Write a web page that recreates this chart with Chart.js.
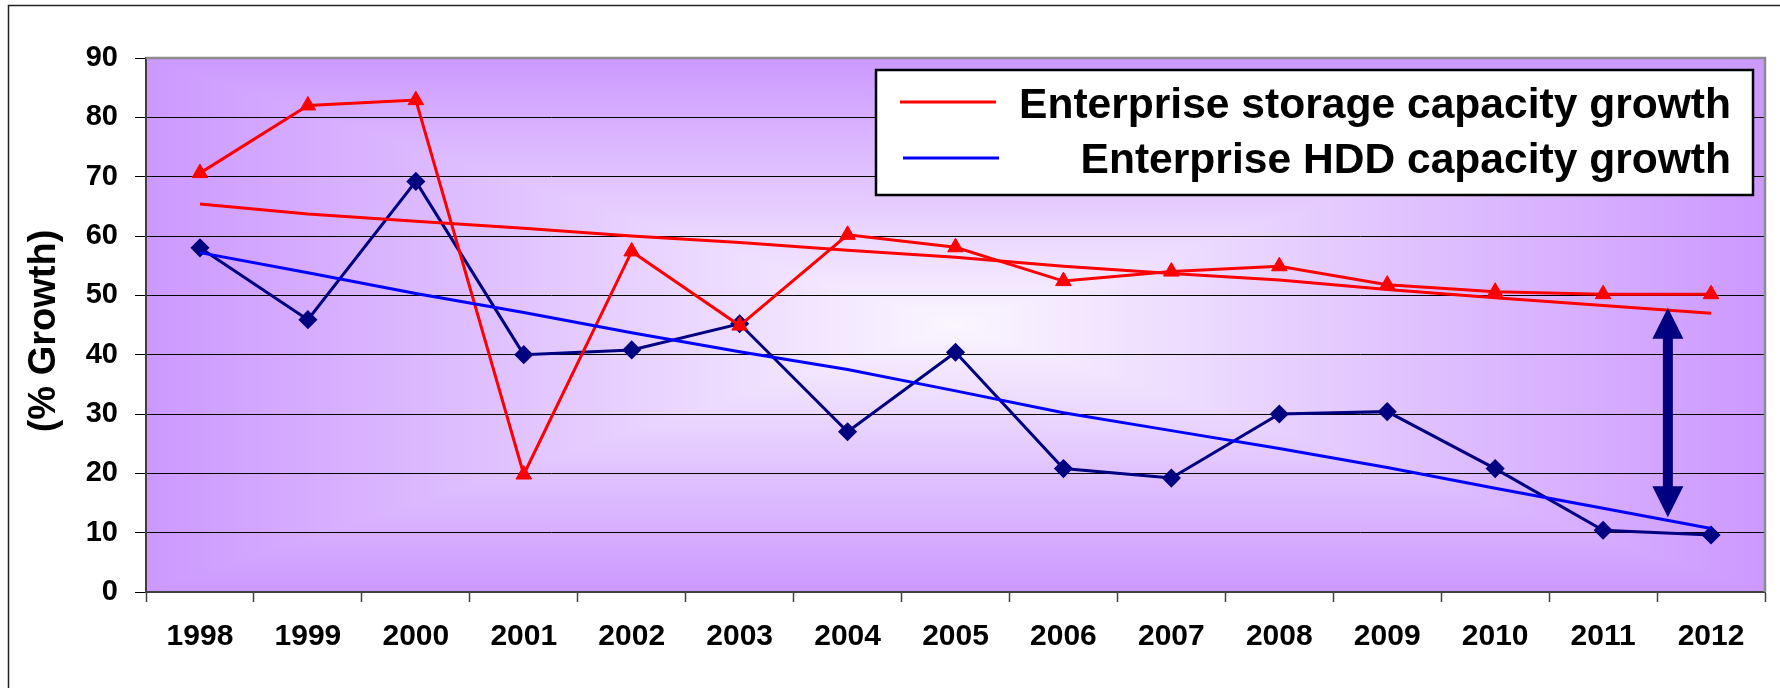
<!DOCTYPE html>
<html>
<head>
<meta charset="utf-8">
<script src="https://cdn.jsdelivr.net/npm/chart.js@4.4.1/dist/chart.umd.min.js"></script>
<style>
  html, body { margin: 0; padding: 0; background: #ffffff; }
  canvas { display: block; }
</style>
</head>
<body>
<canvas id="growthChart" width="1780" height="688"></canvas>
<script>
// ---- data -------------------------------------------------------------
const years = ['1998', '1999', '2000', '2001', '2002', '2003', '2004', '2005',
               '2006', '2007', '2008', '2009', '2010', '2011', '2012'];

// yearly growth, in percent
const storageGrowth = [70.6, 82.0, 82.9, 19.8, 57.4, 44.9, 60.2, 58.1,
                       52.4, 54.0, 54.9, 51.8, 50.6, 50.2, 50.2];
const hddGrowth     = [58.0, 45.9, 69.2, 40.0, 40.8, 45.2, 27.0, 40.4,
                       20.8, 19.2, 30.0, 30.4, 20.8, 10.4, 9.6];

// trend lines
const storageTrend  = [65.4, 63.7, 62.5, 61.3, 60.0, 58.9, 57.6, 56.4,
                       54.9, 53.7, 52.6, 51.0, 49.6, 48.3, 47.0];
const hddTrend      = [57.2, 53.8, 50.3, 47.1, 43.7, 40.5, 37.5, 33.9,
                       30.2, 27.2, 24.2, 21.0, 17.5, 14.1, 10.7];

const yTickMin = 0;
const yTickMax = 90;
const yTickStep = 10;

const legendLabels = ['Enterprise storage capacity growth', 'Enterprise HDD capacity growth'];
const axisTitle = '(% Growth)';

// double arrow marking the gap between the two trends:
// position on the category axis (fractional index) and the values it spans
const gapArrowAt = 13.6;
const gapArrowSpan = [47.9, 12.6];

// ---- styling ------------------------------------------------------------
const FONT = '"Liberation Sans", Arial, Helvetica, sans-serif';
const RED = '#ff0000';
const NAVY = '#000080';
const BLUE = '#0000ff';
const LAVENDER = [204, 153, 255];
const CENTER = [250, 246, 255];

Chart.defaults.font.family = FONT;
Chart.defaults.color = '#000000';

// rectangular "from centre" gradient behind the plot, plus the outer frame
let bgCache = null;
const plotBackground = {
  id: 'plotBackground',
  beforeDraw(chart) {
    const { ctx, chartArea: a } = chart;
    const w = Math.round(a.right - a.left), h = Math.round(a.bottom - a.top);
    if (!bgCache || bgCache.width !== w || bgCache.height !== h) {
      bgCache = document.createElement('canvas');
      bgCache.width = w; bgCache.height = h;
      const octx = bgCache.getContext('2d');
      const img = octx.createImageData(w, h);
      const cx = w / 2, cy = h / 2;
      for (let y = 0; y < h; y++) {
        const ty = Math.abs(y + 0.5 - cy) / cy;
        for (let x = 0; x < w; x++) {
          const t = Math.max(ty, Math.abs(x + 0.5 - cx) / cx);
          const i = (y * w + x) * 4;
          img.data[i]     = CENTER[0] + (LAVENDER[0] - CENTER[0]) * t;
          img.data[i + 1] = CENTER[1] + (LAVENDER[1] - CENTER[1]) * t;
          img.data[i + 2] = CENTER[2] + (LAVENDER[2] - CENTER[2]) * t;
          img.data[i + 3] = 255;
        }
      }
      octx.putImageData(img, 0, 0);
    }
    ctx.save();
    ctx.fillStyle = '#ffffff';
    ctx.fillRect(0, 0, chart.width, chart.height);
    ctx.drawImage(bgCache, Math.round(a.left), Math.round(a.top));
    // outer frame (left and top edges)
    ctx.strokeStyle = '#222222';
    ctx.lineWidth = 1.5;
    ctx.beginPath();
    ctx.moveTo(8.5, chart.height);
    ctx.lineTo(8.5, 5.5);
    ctx.lineTo(chart.width, 5.5);
    ctx.stroke();
    ctx.restore();
  }
};

// grey edge along the top and right of the plot
const plotFrame = {
  id: 'plotFrame',
  beforeDatasetsDraw(chart) {
    const { ctx, chartArea: a } = chart;
    ctx.save();
    ctx.strokeStyle = '#8c8c8c';
    ctx.lineWidth = 2.5;
    ctx.beginPath();
    ctx.moveTo(a.left, a.top);
    ctx.lineTo(a.right, a.top);
    ctx.lineTo(a.right, a.bottom);
    ctx.stroke();
    ctx.restore();
  }
};

// double-headed arrow between the trend lines
const gapArrow = {
  id: 'gapArrow',
  afterDatasetsDraw(chart) {
    const { ctx, scales: { x: xs, y: ys } } = chart;
    const x = xs.getPixelForValue(gapArrowAt);
    const y1 = ys.getPixelForValue(gapArrowSpan[0]);
    const y2 = ys.getPixelForValue(gapArrowSpan[1]);
    const head = 31, hw = 15.5, sw = 5;
    ctx.save();
    ctx.fillStyle = NAVY;
    ctx.beginPath();
    ctx.moveTo(x, y1);
    ctx.lineTo(x + hw, y1 + head);
    ctx.lineTo(x + sw, y1 + head);
    ctx.lineTo(x + sw, y2 - head);
    ctx.lineTo(x + hw, y2 - head);
    ctx.lineTo(x, y2);
    ctx.lineTo(x - hw, y2 - head);
    ctx.lineTo(x - sw, y2 - head);
    ctx.lineTo(x - sw, y1 + head);
    ctx.lineTo(x - hw, y1 + head);
    ctx.closePath();
    ctx.fill();
    ctx.restore();
  }
};

// boxed legend in the upper right of the plot
const boxedLegend = {
  id: 'boxedLegend',
  afterDraw(chart) {
    const { ctx } = chart;
    const box = { l: 876, t: 70, r: 1753, b: 195 };
    const swatches = [
      { color: RED,  x1: 900, x2: 996, y: 102, base: 118 },
      { color: BLUE, x1: 903, x2: 999, y: 158, base: 173 }
    ];
    const textRight = 1731, firstWidth = 712;
    ctx.save();
    ctx.fillStyle = '#ffffff';
    ctx.fillRect(box.l, box.t, box.r - box.l, box.b - box.t);
    ctx.strokeStyle = '#000000';
    ctx.lineWidth = 2.5;
    ctx.strokeRect(box.l, box.t, box.r - box.l, box.b - box.t);
    ctx.font = 'bold 42px ' + FONT;
    const sx = firstWidth / ctx.measureText(legendLabels[0]).width;
    legendLabels.forEach((label, i) => {
      const s = swatches[i];
      ctx.strokeStyle = s.color;
      ctx.lineWidth = 3;
      ctx.beginPath();
      ctx.moveTo(s.x1, s.y);
      ctx.lineTo(s.x2, s.y);
      ctx.stroke();
      ctx.save();
      ctx.translate(textRight, s.base);
      ctx.scale(sx, 1);
      ctx.fillStyle = '#000000';
      ctx.textAlign = 'right';
      ctx.textBaseline = 'alphabetic';
      ctx.fillText(label, 0, 0);
      ctx.restore();
    });
    ctx.restore();
  }
};

// rotated value-axis title
const valueAxisTitle = {
  id: 'valueAxisTitle',
  afterDraw(chart) {
    const { ctx, chartArea: a } = chart;
    ctx.save();
    ctx.font = 'bold 38px ' + FONT;
    ctx.translate(55, (a.top + a.bottom) / 2 + 6);
    ctx.rotate(-Math.PI / 2);
    ctx.fillStyle = '#000000';
    ctx.textAlign = 'center';
    ctx.textBaseline = 'alphabetic';
    ctx.fillText(axisTitle, 0, 0);
    ctx.restore();
  }
};

new Chart(document.getElementById('growthChart'), {
  type: 'line',
  data: {
    labels: years,
    datasets: [
      { label: legendLabels[0] + ' trend', data: storageTrend, borderColor: RED,
        borderWidth: 3, pointRadius: 0, fill: false },
      { label: legendLabels[1] + ' trend', data: hddTrend, borderColor: BLUE,
        borderWidth: 3, pointRadius: 0, fill: false },
      { label: legendLabels[0], data: storageGrowth, borderColor: RED,
        borderWidth: 3, pointStyle: 'triangle', pointRadius: 9,
        pointBackgroundColor: RED, pointBorderColor: RED, pointBorderWidth: 1, fill: false },
      { label: legendLabels[1], data: hddGrowth, borderColor: NAVY,
        borderWidth: 3, pointStyle: 'rectRot', pointRadius: 8.5,
        pointBackgroundColor: NAVY, pointBorderColor: NAVY, pointBorderWidth: 1.5, fill: false }
    ]
  },
  options: {
    responsive: false,
    animation: false,
    devicePixelRatio: 1,
    layout: { padding: { left: 0, top: 58, right: 15, bottom: 0 } },
    elements: { line: { tension: 0 } },
    plugins: {
      legend: { display: false },
      tooltip: { enabled: false },
      title: { display: false }
    },
    scales: {
      x: {
        type: 'category',
        offset: true,
        grid: { offset: true, drawOnChartArea: false, drawTicks: true,
                tickLength: 10, tickColor: '#404040', tickWidth: 1.5 },
        border: { display: true, color: '#404040', width: 2 },
        ticks: { font: { size: 30, weight: 'bold' }, color: '#000000',
                 padding: 17, autoSkip: false, maxRotation: 0 },
        afterFit(scale) { scale.height = 96; }
      },
      y: {
        min: yTickMin,
        max: yTickMax,
        grid: { color: '#000000', lineWidth: 1, drawTicks: true,
                tickLength: 11, tickColor: '#000000' },
        border: { display: true, color: '#404040', width: 2 },
        ticks: { stepSize: yTickStep, font: { size: 29, weight: 'bold' },
                 color: '#000000', padding: 17 },
        afterFit(scale) { scale.width = 146; }
      }
    }
  },
  plugins: [plotBackground, plotFrame, gapArrow, boxedLegend, valueAxisTitle]
});
</script>
</body>
</html>
